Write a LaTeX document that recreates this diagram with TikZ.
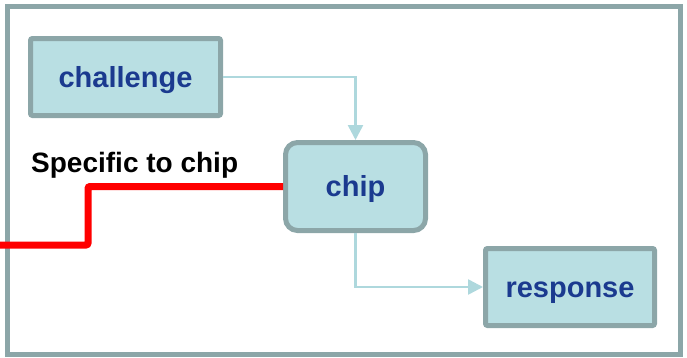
\documentclass[tikz,border=0pt]{standalone}
\usepackage{fontspec}
\setmainfont{Liberation Sans}
\usepackage{tikz}
\usetikzlibrary{arrows.meta, positioning, calc}
\definecolor{boxfill}{HTML}{B9DFE3}
\definecolor{boxedge}{HTML}{8CA6A8}
\definecolor{linkcolor}{HTML}{AED8DD}
\definecolor{labelblue}{HTML}{1B3A8F}

\begin{document}
\begin{tikzpicture}[
    x=1pt, y=-1pt,
    block/.style={rectangle, rounded corners=2pt, draw=boxedge, line width=5pt,
                  fill=boxfill, text=labelblue, align=center,
                  text height=26pt, text depth=6pt,
                  font=\fontsize{29}{34}\selectfont\bfseries},
    link/.style={-{Triangle[length=15pt, width=15pt]}, line width=2.5pt, color=linkcolor},
    wire/.style={line width=7pt, color=red, rounded corners=2pt}
]
\useasboundingbox (0,0) rectangle (687,357);

% Frame
\draw[boxedge, line width=5pt] (7,6.5) rectangle (680.5,354.5);

% Boxes
\node[block, minimum width=190pt, minimum height=77pt] (challenge) at (125.5,77) {challenge};
\node[block, rounded corners=12pt, minimum width=140pt, minimum height=88pt] (chip) at (355.5,186.5) {chip};
\node[block, minimum width=169pt, minimum height=77pt] (response) at (570,287) {response};

% Arrows
\draw[link] (challenge) -| (chip);
\draw[link] (chip) |- (response);

% Chip-specific input
\coordinate (feed) at (0,245);
\draw[wire] (feed) -- ++(88,0) |- (chip.west);
\node[anchor=base west, inner sep=0pt, font=\fontsize{28}{32}\selectfont\bfseries] (specific) at (31,172) {Specific to chip};

\end{tikzpicture}
\end{document}
